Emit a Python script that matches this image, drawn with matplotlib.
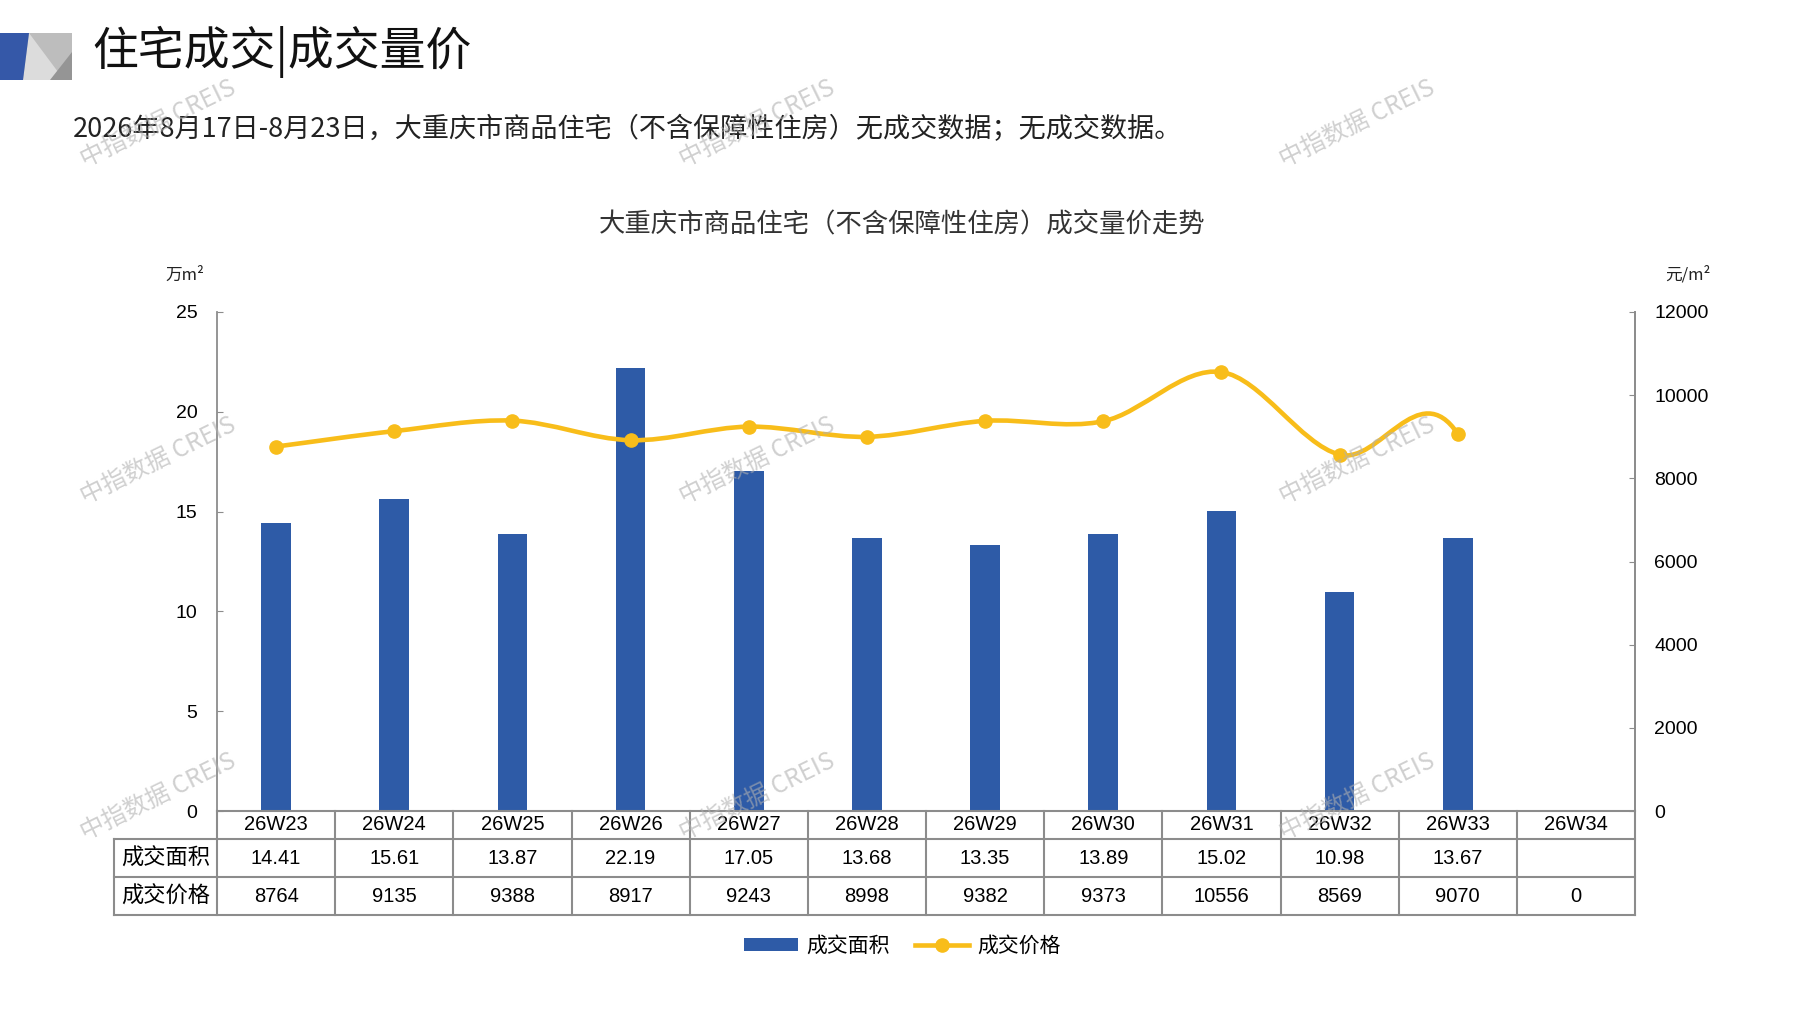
import numpy as np
import matplotlib
matplotlib.use("Agg")
import matplotlib.pyplot as plt
from matplotlib import font_manager
from matplotlib.path import Path
from matplotlib.patches import PathPatch, Polygon, Patch
from matplotlib.lines import Line2D

# 数据
weeks = ['26W23', '26W24', '26W25', '26W26', '26W27', '26W28',
         '26W29', '26W30', '26W31', '26W32', '26W33', '26W34']
area = [14.41, 15.61, 13.87, 22.19, 17.05, 13.68, 13.35, 13.89, 15.02, 10.98, 13.67, np.nan]
price = [8764, 9135, 9388, 8917, 9243, 8998, 9382, 9373, 10556, 8569, 9070, 0]

title = '住宅成交|成交量价'
subtitle = '2026年8月17日-8月23日，大重庆市商品住宅（不含保障性住房）无成交数据；无成交数据。'
chart_title = '大重庆市商品住宅（不含保障性住房）成交量价走势'
row_labels = ['成交面积', '成交价格']
watermark = '中指数据 CREIS'

BAR_C = '#2E5BA7'
LINE_C = '#F8BD1A'
GRID_C = '#8C8C8C'

cjk = ['Noto Sans CJK SC', 'DejaVu Sans']
plt.rcParams['font.family'] = cjk
names = {f.name for f in font_manager.fontManager.ttflist}
num_font = 'Liberation Sans' if 'Liberation Sans' in names else 'DejaVu Sans'
narrow = 'Liberation Sans Narrow' if 'Liberation Sans Narrow' in names else num_font

W, H = 1797, 1010
fig = plt.figure(figsize=(W / 100, H / 100), dpi=100)


def fx(x):
    return x / W


def fy(y):
    return 1 - y / H


# 左上角图标
fig.add_artist(Polygon([(fx(0), fy(33)), (fx(72), fy(33)), (fx(72), fy(80)), (fx(0), fy(80))],
                       closed=True, transform=fig.transFigure, color='#BDBDBD', lw=0))
fig.add_artist(Polygon([(fx(29), fy(33)), (fx(23), fy(80)), (fx(64), fy(80))],
                       closed=True, transform=fig.transFigure, color='#DCDCDC', lw=0))
fig.add_artist(Polygon([(fx(50), fy(80)), (fx(72), fy(52)), (fx(72), fy(80))],
                       closed=True, transform=fig.transFigure, color='#959595', lw=0))
fig.add_artist(Polygon([(fx(0), fy(33)), (fx(29), fy(33)), (fx(23), fy(80)), (fx(0), fy(80))],
                       closed=True, transform=fig.transFigure, color='#3558A8', lw=0))

fig.text(fx(92), fy(52), title, fontsize=33, va='center', ha='left', color='#111111')
fig.text(fx(73), fy(129), subtitle, fontsize=19.5, va='center', ha='left', color='#222222')
fig.text(fx(902), fy(225), chart_title, fontsize=19, va='center', ha='center', color='#333333')

# 主图
ax = fig.add_axes([fx(217), fy(811), fx(1635 - 217), (811 - 312) / H])
x = np.arange(len(weeks))
ax.bar(x, area, width=0.25, color=BAR_C, zorder=2)
ax.set_xlim(-0.5, len(weeks) - 0.5)
ax.set_ylim(0, 25)
ax.set_yticks(np.arange(0, 26, 5))
ax.set_xticks([])
for s in ['top', 'bottom']:
    ax.spines[s].set_visible(False)
for s in ['left', 'right']:
    ax.spines[s].set_color(GRID_C)
    ax.spines[s].set_linewidth(1.3)
ax.tick_params(axis='y', direction='in', length=4, color=GRID_C, pad=14, labelsize=14)
for lab in ax.get_yticklabels():
    lab.set_fontfamily(num_font)

ax2 = ax.twinx()
ax2.set_ylim(0, 12000)
ax2.set_yticks(np.arange(0, 12001, 2000))
for s in ['top', 'bottom', 'left']:
    ax2.spines[s].set_visible(False)
ax2.spines['right'].set_color(GRID_C)
ax2.spines['right'].set_linewidth(1.3)
ax2.tick_params(axis='y', direction='in', length=4, color=GRID_C, pad=14, labelsize=14)
for lab in ax2.get_yticklabels():
    lab.set_fontfamily(num_font)

# 平滑折线（类似 Excel 平滑线），W34 无数据不画
p = np.array(price, dtype=float)
n = len(p)
shown = p > 0
m = np.array([(p[min(i + 1, n - 1)] - p[max(i - 1, 0)]) / (min(i + 1, n - 1) - max(i - 1, 0))
              for i in range(n)])
last = int(np.where(shown)[0][-1])
verts = [(0, p[0])]
codes = [Path.MOVETO]
for i in range(last):
    verts += [(i + 1 / 3, p[i] + m[i] / 3), (i + 2 / 3, p[i + 1] - m[i + 1] / 3), (i + 1, p[i + 1])]
    codes += [Path.CURVE4] * 3
ax2.add_patch(PathPatch(Path(verts, codes), fill=False, edgecolor=LINE_C, lw=3.3,
                        capstyle='round', joinstyle='round', zorder=3))
ax2.plot(x[shown], p[shown], 'o', color=LINE_C, markersize=9.5, zorder=4)

# 单位
fig.text(fx(185), fy(275), '万m²', fontsize=12, ha='center', va='center', color='#222222')
fig.text(fx(1688), fy(275), '元/m²', fontsize=12, ha='center', va='center', color='#222222')

# 数据表
tr = ax.get_xaxis_transform()
lab_left = -0.5 - (217 - 114) / ((1635 - 217) / n)
y_rows = [0, -(839 - 811) / 499, -(877 - 811) / 499, -(915 - 811) / 499]
lk = dict(color=GRID_C, lw=1.5, transform=tr, clip_on=False, zorder=5)
ax.plot([-0.5, n - 0.5], [0, 0], **lk)
for yy in y_rows[1:]:
    ax.plot([lab_left, n - 0.5], [yy, yy], **lk)
for k in range(n + 1):
    ax.plot([k - 0.5, k - 0.5], [0, y_rows[3]], **lk)
ax.plot([lab_left, lab_left], [y_rows[1], y_rows[3]], **lk)

area_txt = ['' if np.isnan(a) else f'{a:.2f}' for a in area]
price_txt = [f'{v:d}' for v in price]
for i in range(n):
    ax.text(i, (y_rows[0] + y_rows[1]) / 2, weeks[i], transform=tr, ha='center', va='center',
            fontsize=14.5, family=narrow)
    ax.text(i, (y_rows[1] + y_rows[2]) / 2, area_txt[i], transform=tr, ha='center', va='center',
            fontsize=14.5, family=narrow)
    ax.text(i, (y_rows[2] + y_rows[3]) / 2, price_txt[i], transform=tr, ha='center', va='center',
            fontsize=14.5, family=narrow)
for j, lab in enumerate(row_labels):
    ax.text((lab_left - 0.5) / 2, (y_rows[j + 1] + y_rows[j + 2]) / 2, lab, transform=tr,
            ha='center', va='center', fontsize=16)

# 图例
handles = [Patch(facecolor=BAR_C, edgecolor='none'),
           Line2D([0], [0], color=LINE_C, lw=3.3, marker='o', markersize=9.5)]
fig.legend(handles, ['成交面积', '成交价格'], loc='center', bbox_to_anchor=(fx(902), fy(946)),
           ncol=2, frameon=False, fontsize=15, handlelength=2.6, handleheight=0.6,
           columnspacing=1.2, handletextpad=0.4)

# 水印
for wy in [124, 461, 797]:
    for wx in [158, 757, 1357]:
        fig.text(fx(wx), fy(wy), watermark, fontsize=17.5, rotation=26, ha='center', va='center',
                 color='#B0B0B0', alpha=0.6, zorder=10)

fig.savefig('out.png', dpi=100)
